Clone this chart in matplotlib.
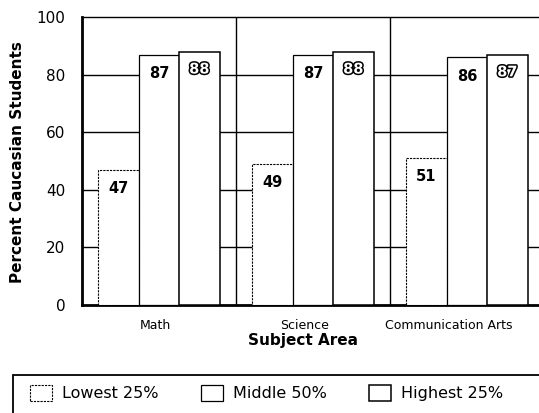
import numpy as np
import matplotlib.pyplot as plt
import matplotlib.patheffects as pe
from matplotlib.patches import Patch, Rectangle

# data
subjects = ['Math', 'Science', 'Communication Arts']
groups = ['Lowest 25%', 'Middle 50%', 'Highest 25%']
lowest = [47, 49, 51]
middle = [87, 87, 86]
highest = [88, 88, 87]

plt.rcParams['font.family'] = ['DejaVu Sans']

fig = plt.figure(figsize=(5.39, 4.13), dpi=100)
ax = fig.add_axes([0.152, 0.2615, 0.857, 0.697])

x = np.arange(len(subjects))
w = 0.263
styles = [dict(ls=(0, (2, 1)), lw=0.8), dict(ls='-', lw=0.9), dict(ls='-', lw=1.1)]
series = [lowest, middle, highest]

for i, vals in enumerate(series):
    bars = ax.bar(x + (i - 1) * w, vals, width=w, facecolor='white',
                  edgecolor='black', linestyle=styles[i]['ls'],
                  linewidth=styles[i]['lw'], zorder=3)
    for b, v in zip(bars, vals):
        cx = b.get_x() + b.get_width() / 2
        if i == 2:
            ax.text(cx, v - 6, str(v), ha='center', va='center', fontsize=10.5,
                    fontweight='bold', color='white', zorder=5,
                    path_effects=[pe.withStroke(linewidth=2.2, foreground='black')])
        else:
            ax.text(cx, v - 6.5, str(v), ha='center', va='center', fontsize=10.5,
                    fontweight='bold', color='black', zorder=5)

# horizontal guides behind the bars, vertical dividers between subjects
for yv in [20, 40, 60, 80]:
    ax.axhline(yv, color='black', lw=1, zorder=1)
for xv in [0.5, 1.5]:
    ax.axvline(xv, color='black', lw=1, zorder=2)

ax.set_xlim(-0.5, 2.5)
ax.set_ylim(0, 100)
ax.set_yticks([0, 20, 40, 60, 80, 100])
ax.tick_params(axis='y', length=0, pad=12, labelsize=11)
ax.set_xticks([-0.025, 0.945, 1.885])
ax.set_xticklabels(subjects, fontsize=9)
ax.tick_params(axis='x', length=0, pad=10)

ax.spines['left'].set_linewidth(2)
ax.spines['bottom'].set_linewidth(2)
ax.spines['top'].set_linewidth(1)
ax.spines['right'].set_visible(False)

fig.text(18 / 539, 1 - 162 / 413, 'Percent Caucasian Students', rotation=90,
         ha='center', va='center', fontsize=11, fontweight='bold')
fig.text(303 / 539, 1 - 340 / 413, 'Subject Area', ha='center', va='center',
         fontsize=11, fontweight='bold')

# legend box running off the right and bottom edges like the scan
fig.patches.append(Rectangle((13 / 539, -0.1), 1.1, (413 - 375) / 413 + 0.1,
                             transform=fig.transFigure, fill=False,
                             edgecolor='black', lw=1.3))
handles = [Patch(facecolor='white', edgecolor='black', linestyle=styles[i]['ls'],
                 linewidth=styles[i]['lw']) for i in range(3)]
fig.legend(handles, groups, ncol=3, loc='center left',
           bbox_to_anchor=(30 / 539, 1 - 393 / 413), frameon=False,
           fontsize=11.5, handlelength=1.4, handleheight=1.25, handletextpad=0.6,
           columnspacing=2.65, borderpad=0, borderaxespad=0)

fig.savefig('out.png', dpi=100)
